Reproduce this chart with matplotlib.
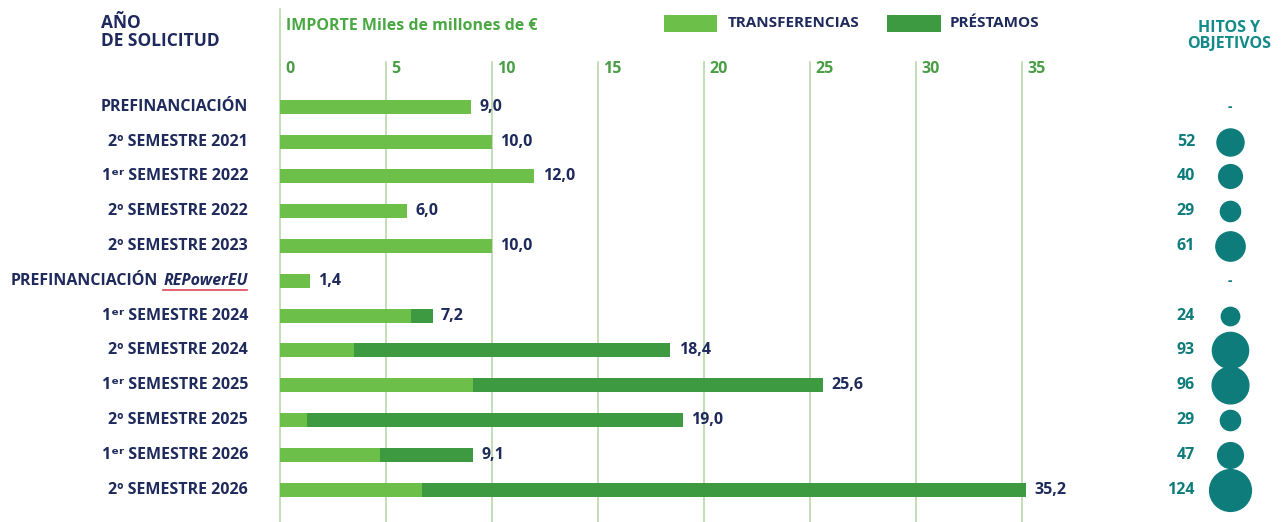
import numpy as np
import matplotlib.pyplot as plt

plt.rcParams['font.family'] = ['Open Sans', 'DejaVu Sans']

periodos = ["PREFINANCIACIÓN", "2º SEMESTRE 2021", "1ᵉʳ SEMESTRE 2022", "2º SEMESTRE 2022",
            "2º SEMESTRE 2023", "PREFINANCIACIÓN", "1ᵉʳ SEMESTRE 2024", "2º SEMESTRE 2024",
            "1ᵉʳ SEMESTRE 2025", "2º SEMESTRE 2025", "1ᵉʳ SEMESTRE 2026", "2º SEMESTRE 2026"]
transferencias = [9.0, 10.0, 12.0, 6.0, 10.0, 1.4, 6.2, 3.5, 9.1, 1.3, 4.7, 6.7]
totales = [9.0, 10.0, 12.0, 6.0, 10.0, 1.4, 7.2, 18.4, 25.6, 19.0, 9.1, 35.2]
prestamos = [t - tr for t, tr in zip(totales, transferencias)]
hitos = [None, 52, 40, 29, 61, None, 24, 93, 96, 29, 47, 124]
ticks = [0, 5, 10, 15, 20, 25, 30, 35]

navy = "#1f2a5c"
light = "#6cc04a"
dark = "#3d9a40"
teal = "#0f7c7c"
grid = "#b9d8aa"

fig = plt.figure(figsize=(12.83, 5.22), dpi=100)
ax = fig.add_axes([0, 0, 1, 1])
ax.set_xlim(-13.2, 47.3)
ax.set_ylim(11.93, -3.07)
ax.axis("off")

y = np.arange(len(periodos))

# grid lines
ax.plot([0, 0], [-2.8, 11.93], color=grid, lw=1.2, zorder=0)
for t in ticks[1:]:
    ax.plot([t, t], [-1.3, 11.93], color=grid, lw=1.2, zorder=0)
for t in ticks:
    ax.text(t + 0.25, -1.1, str(t), color="#4a9e45", fontsize=11.5, fontweight="bold",
            ha="left", va="center")

ax.barh(y, transferencias, height=0.4, color=light, zorder=2)
ax.barh(y, prestamos, left=transferencias, height=0.4, color=dark, zorder=2)

for i, tot in enumerate(totales):
    ax.text(tot + 0.4, i, f"{tot:.1f}".replace(".", ","), color=navy, fontsize=11.5,
            fontweight="bold", ha="left", va="center")

# row labels
for i, lab in enumerate(periodos):
    if i == 5:
        ax.text(-1.5, i, "REPowerEU", color=navy, fontsize=11.5, fontweight="bold",
                fontstyle="italic", ha="right", va="center")
        ax.plot([-5.5, -1.55], [i + 0.27, i + 0.27], color="#e0455a", lw=1.2)
        ax.text(-5.75, i, lab, color=navy, fontsize=11.5, fontweight="bold",
                ha="right", va="center")
    else:
        ax.text(-1.5, i, lab, color=navy, fontsize=11.5, fontweight="bold",
                ha="right", va="center")

# hitos y objetivos
for i, h in enumerate(hitos):
    if h is None:
        ax.text(44.8, i, "-", color=teal, fontsize=10, fontweight="bold",
                ha="center", va="center")
    else:
        ax.text(43.15, i, str(h), color=teal, fontsize=11.5, fontweight="bold",
                ha="right", va="center")
        ax.scatter(44.8, i, s=h * 7.3, color=teal, zorder=3)

# headers
ax.text(-8.45, -2.15, "AÑO\nDE SOLICITUD", color=navy, fontsize=12.5, fontweight="bold",
        ha="left", va="center", linespacing=1.0)
ax.text(0.3, -2.33, "IMPORTE Miles de millones de €", color="#4aa842", fontsize=11.5,
        fontweight="bold", ha="left", va="center")
ax.barh(-2.4, 2.5, left=18.1, height=0.48, color=light)
ax.text(21.1, -2.4, "TRANSFERENCIAS", color=navy, fontsize=11, fontweight="bold",
        ha="left", va="center")
ax.barh(-2.4, 2.5, left=28.65, height=0.48, color=dark)
ax.text(31.6, -2.4, "PRÉSTAMOS", color=navy, fontsize=11, fontweight="bold",
        ha="left", va="center")
ax.text(44.75, -2.04, "HITOS Y\nOBJETIVOS", color="#138a8a", fontsize=11.5, fontweight="bold",
        ha="center", va="center", linespacing=1.0)

fig.savefig("out.png", dpi=100)
